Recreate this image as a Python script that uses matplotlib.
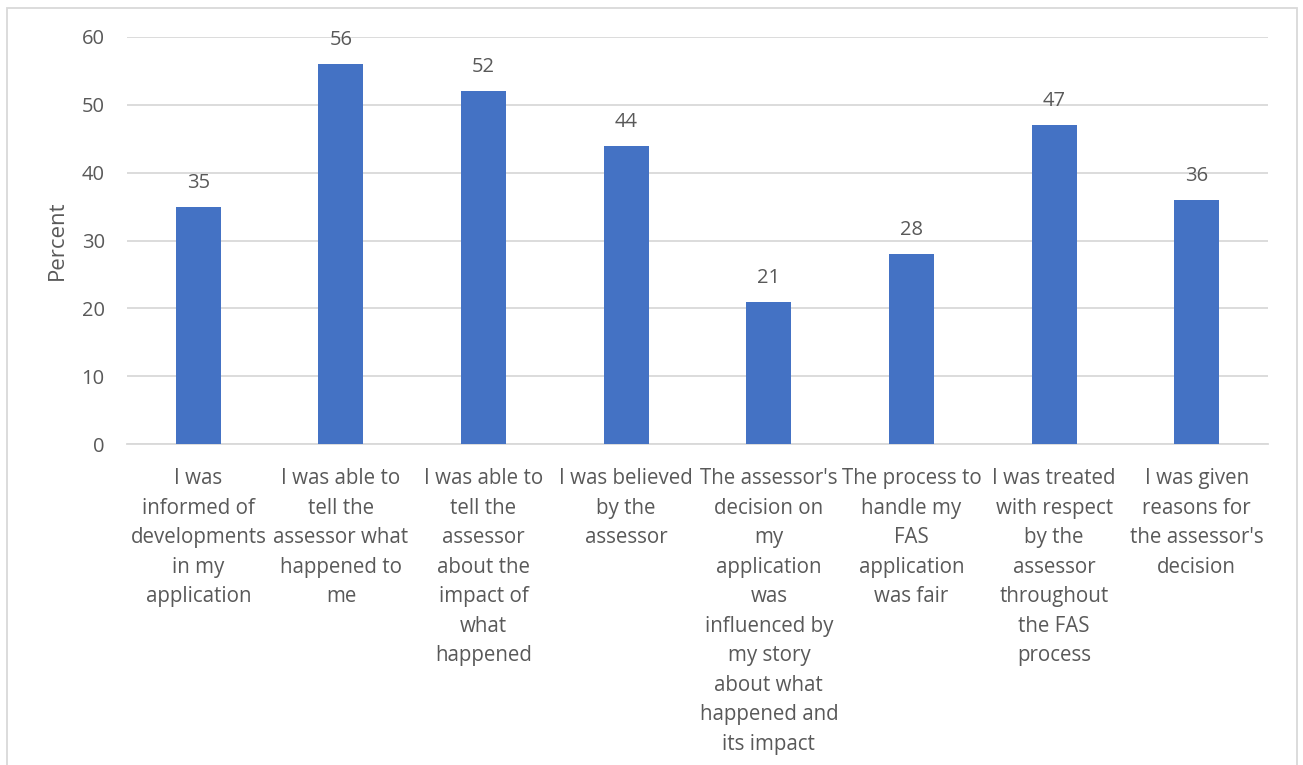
import matplotlib
matplotlib.use('Agg')
import matplotlib.pyplot as plt
from matplotlib.patches import Rectangle

# Survey responses (percent agreeing)
categories = [
    "I was\ninformed of\ndevelopments\nin my\napplication",
    "I was able to\ntell the\nassessor what\nhappened to\nme",
    "I was able to\ntell the\nassessor\nabout the\nimpact of\nwhat\nhappened",
    "I was believed\nby the\nassessor",
    "The assessor's\ndecision on\nmy\napplication\nwas\ninfluenced by\nmy story\nabout what\nhappened and\nits impact",
    "The process to\nhandle my\nFAS\napplication\nwas fair",
    "I was treated\nwith respect\nby the\nassessor\nthroughout\nthe FAS\nprocess",
    "I was given\nreasons for\nthe assessor's\ndecision",
]
values = [35, 56, 52, 44, 21, 28, 47, 36]
yticks = [0, 10, 20, 30, 40, 50, 60]

text_col = '#595959'
grid_col = '#D9D9D9'
bar_col = '#4472C4'

plt.rcParams['font.family'] = ['Open Sans', 'DejaVu Sans']

fig = plt.figure(figsize=(13.03, 7.65), dpi=100)
ax = fig.add_axes([127/1303, 321/765, 1141/1303, 407/765])

x = list(range(len(values)))
bars = ax.bar(x, values, width=0.316, color=bar_col, zorder=3)

for xi, v in zip(x, values):
    ax.annotate(str(v), (xi, v), xytext=(0, 10), textcoords='offset points',
                ha='center', va='bottom', fontsize=14.5, color=text_col)

ax.set_xlim(-0.5, len(values) - 0.5)
ax.set_ylim(0, 60)
ax.set_yticks(yticks)
ax.yaxis.grid(True, color=grid_col, linewidth=1.3, zorder=0)
ax.set_xticks(x)
ax.set_xticklabels(categories, fontsize=14.8, color=text_col, linespacing=1.53)
ax.tick_params(axis='x', length=0, pad=17.5)
ax.tick_params(axis='y', length=0, pad=16, labelsize=14.5, labelcolor=text_col)

for side in ['top', 'right', 'left']:
    ax.spines[side].set_visible(False)
ax.spines['bottom'].set_color(grid_col)
ax.spines['bottom'].set_linewidth(1.3)

ax.set_ylabel('Percent', fontsize=16, color=text_col, labelpad=10)

# light frame around the chart area
fig.patches.append(Rectangle((7/1303, -0.05), 1290/1303, 1.05 - 8/765,
                             transform=fig.transFigure, fill=False,
                             edgecolor=grid_col, linewidth=1.3))

fig.savefig('out.png', dpi=100)
